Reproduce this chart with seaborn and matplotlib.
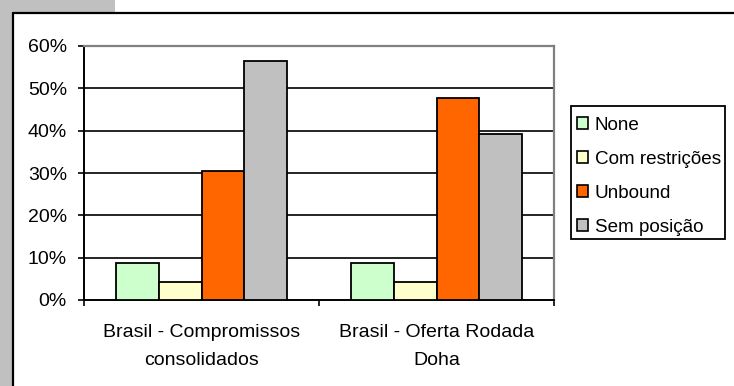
import matplotlib
matplotlib.use("Agg")
import matplotlib.pyplot as plt
import matplotlib.patches as mpatches
import matplotlib.lines as mlines
import seaborn as sns
import pandas as pd
from matplotlib.ticker import PercentFormatter, FixedLocator

categories = ["Brasil - Compromissos\nconsolidados", "Brasil - Oferta Rodada\nDoha"]
series = ["None", "Com restrições", "Unbound", "Sem posição"]
none_vals = [0.088, 0.088]
com_restricoes_vals = [0.043, 0.043]
unbound_vals = [0.305, 0.476]
sem_posicao_vals = [0.565, 0.392]
colors = ["#CCFFCC", "#FFFFCC", "#FF6600", "#C0C0C0"]

rows = []
for s, vals in zip(series, [none_vals, com_restricoes_vals, unbound_vals, sem_posicao_vals]):
    for c, v in zip(categories, vals):
        rows.append({"cat": c, "series": s, "val": v})
df = pd.DataFrame(rows)

sns.set_style("white")
plt.rcParams["font.family"] = ["Liberation Sans", "DejaVu Sans"]
plt.rcParams["text.color"] = "black"
plt.rcParams["xtick.color"] = "black"
plt.rcParams["ytick.color"] = "black"
plt.rcParams["xtick.labelcolor"] = "black"
plt.rcParams["ytick.labelcolor"] = "black"
FS = 14
LFS = 13.6

fig = plt.figure(figsize=(7.34, 3.86), dpi=100)
W, H = 734, 386

# grey background pieces and outer border
fig.patches.append(mpatches.Rectangle((0, 0), 12 / W, 1, transform=fig.transFigure,
                                      facecolor="#C0C0C0", edgecolor="none", zorder=0))
fig.patches.append(mpatches.Rectangle((0, 1 - 12 / H), 115 / W, 12 / H, transform=fig.transFigure,
                                      facecolor="#C0C0C0", edgecolor="none", zorder=0))
fig.lines.append(mlines.Line2D([12.5 / W, 12.5 / W], [0, 1 - 12.5 / H], transform=fig.transFigure,
                               color="black", lw=1.6))
fig.lines.append(mlines.Line2D([12.5 / W, 1], [1 - 12.5 / H, 1 - 12.5 / H], transform=fig.transFigure,
                               color="black", lw=1.6))

ax = fig.add_axes([84 / W, 1 - 300 / H, (554 - 84) / W, (300 - 46) / H])
sns.barplot(data=df, x="cat", y="val", hue="series", palette=colors, width=0.73,
            saturation=1, edgecolor="black", linewidth=1.3, ax=ax, legend=True, zorder=3)

ax.set_ylim(0, 0.6)
ax.set_xlim(-0.5, 1.5)
ax.set_yticks([0, 0.1, 0.2, 0.3, 0.4, 0.5, 0.6])
ax.yaxis.set_major_formatter(PercentFormatter(1.0, decimals=0))
ax.set_xlabel("")
ax.set_ylabel("")
for y in [0.1, 0.2, 0.3, 0.4, 0.5]:
    ax.axhline(y, color="black", lw=1.2, zorder=1)

for side in ["top", "right"]:
    ax.spines[side].set_color("#808080")
    ax.spines[side].set_linewidth(1.6)
for side in ["left", "bottom"]:
    ax.spines[side].set_color("black")
    ax.spines[side].set_linewidth(1.4)

ax.tick_params(axis="y", direction="out", length=4.3, width=1.2, color="black",
               labelcolor="black", pad=8, labelsize=FS, left=True)
ax.tick_params(axis="x", which="major", length=0, pad=17, labelsize=FS, labelcolor="black")
ax.xaxis.set_minor_locator(FixedLocator([-0.5, 0.5, 1.5]))
ax.tick_params(axis="x", which="minor", direction="out", length=4.3, width=1.2,
               color="black", bottom=True)
for lbl in ax.get_xticklabels():
    lbl.set_linespacing(1.85)

handles, labels = ax.get_legend_handles_labels()
ax.legend_.remove()

# legend frame drawn at its exact place
fig.patches.append(mpatches.Rectangle((571 / W, 1 - 239 / H), (725 - 571) / W, (239 - 106) / H,
                                      transform=fig.transFigure, facecolor="white",
                                      edgecolor="black", lw=1.3, zorder=2))
leg = fig.legend(handles, labels, loc="upper left",
                 bbox_to_anchor=(577 / W, 1 - 117 / H), bbox_transform=fig.transFigure,
                 frameon=False, fontsize=LFS,
                 handlelength=0.6, handleheight=0.6, handletextpad=0.35,
                 labelspacing=0.9, borderpad=0, borderaxespad=0)
leg.set_zorder(3)
for t in leg.get_texts():
    t.set_color("black")
for h in leg.legend_handles:
    h.set_linewidth(1.2)
    h.set_edgecolor("black")

fig.savefig("out.png", dpi=100)
